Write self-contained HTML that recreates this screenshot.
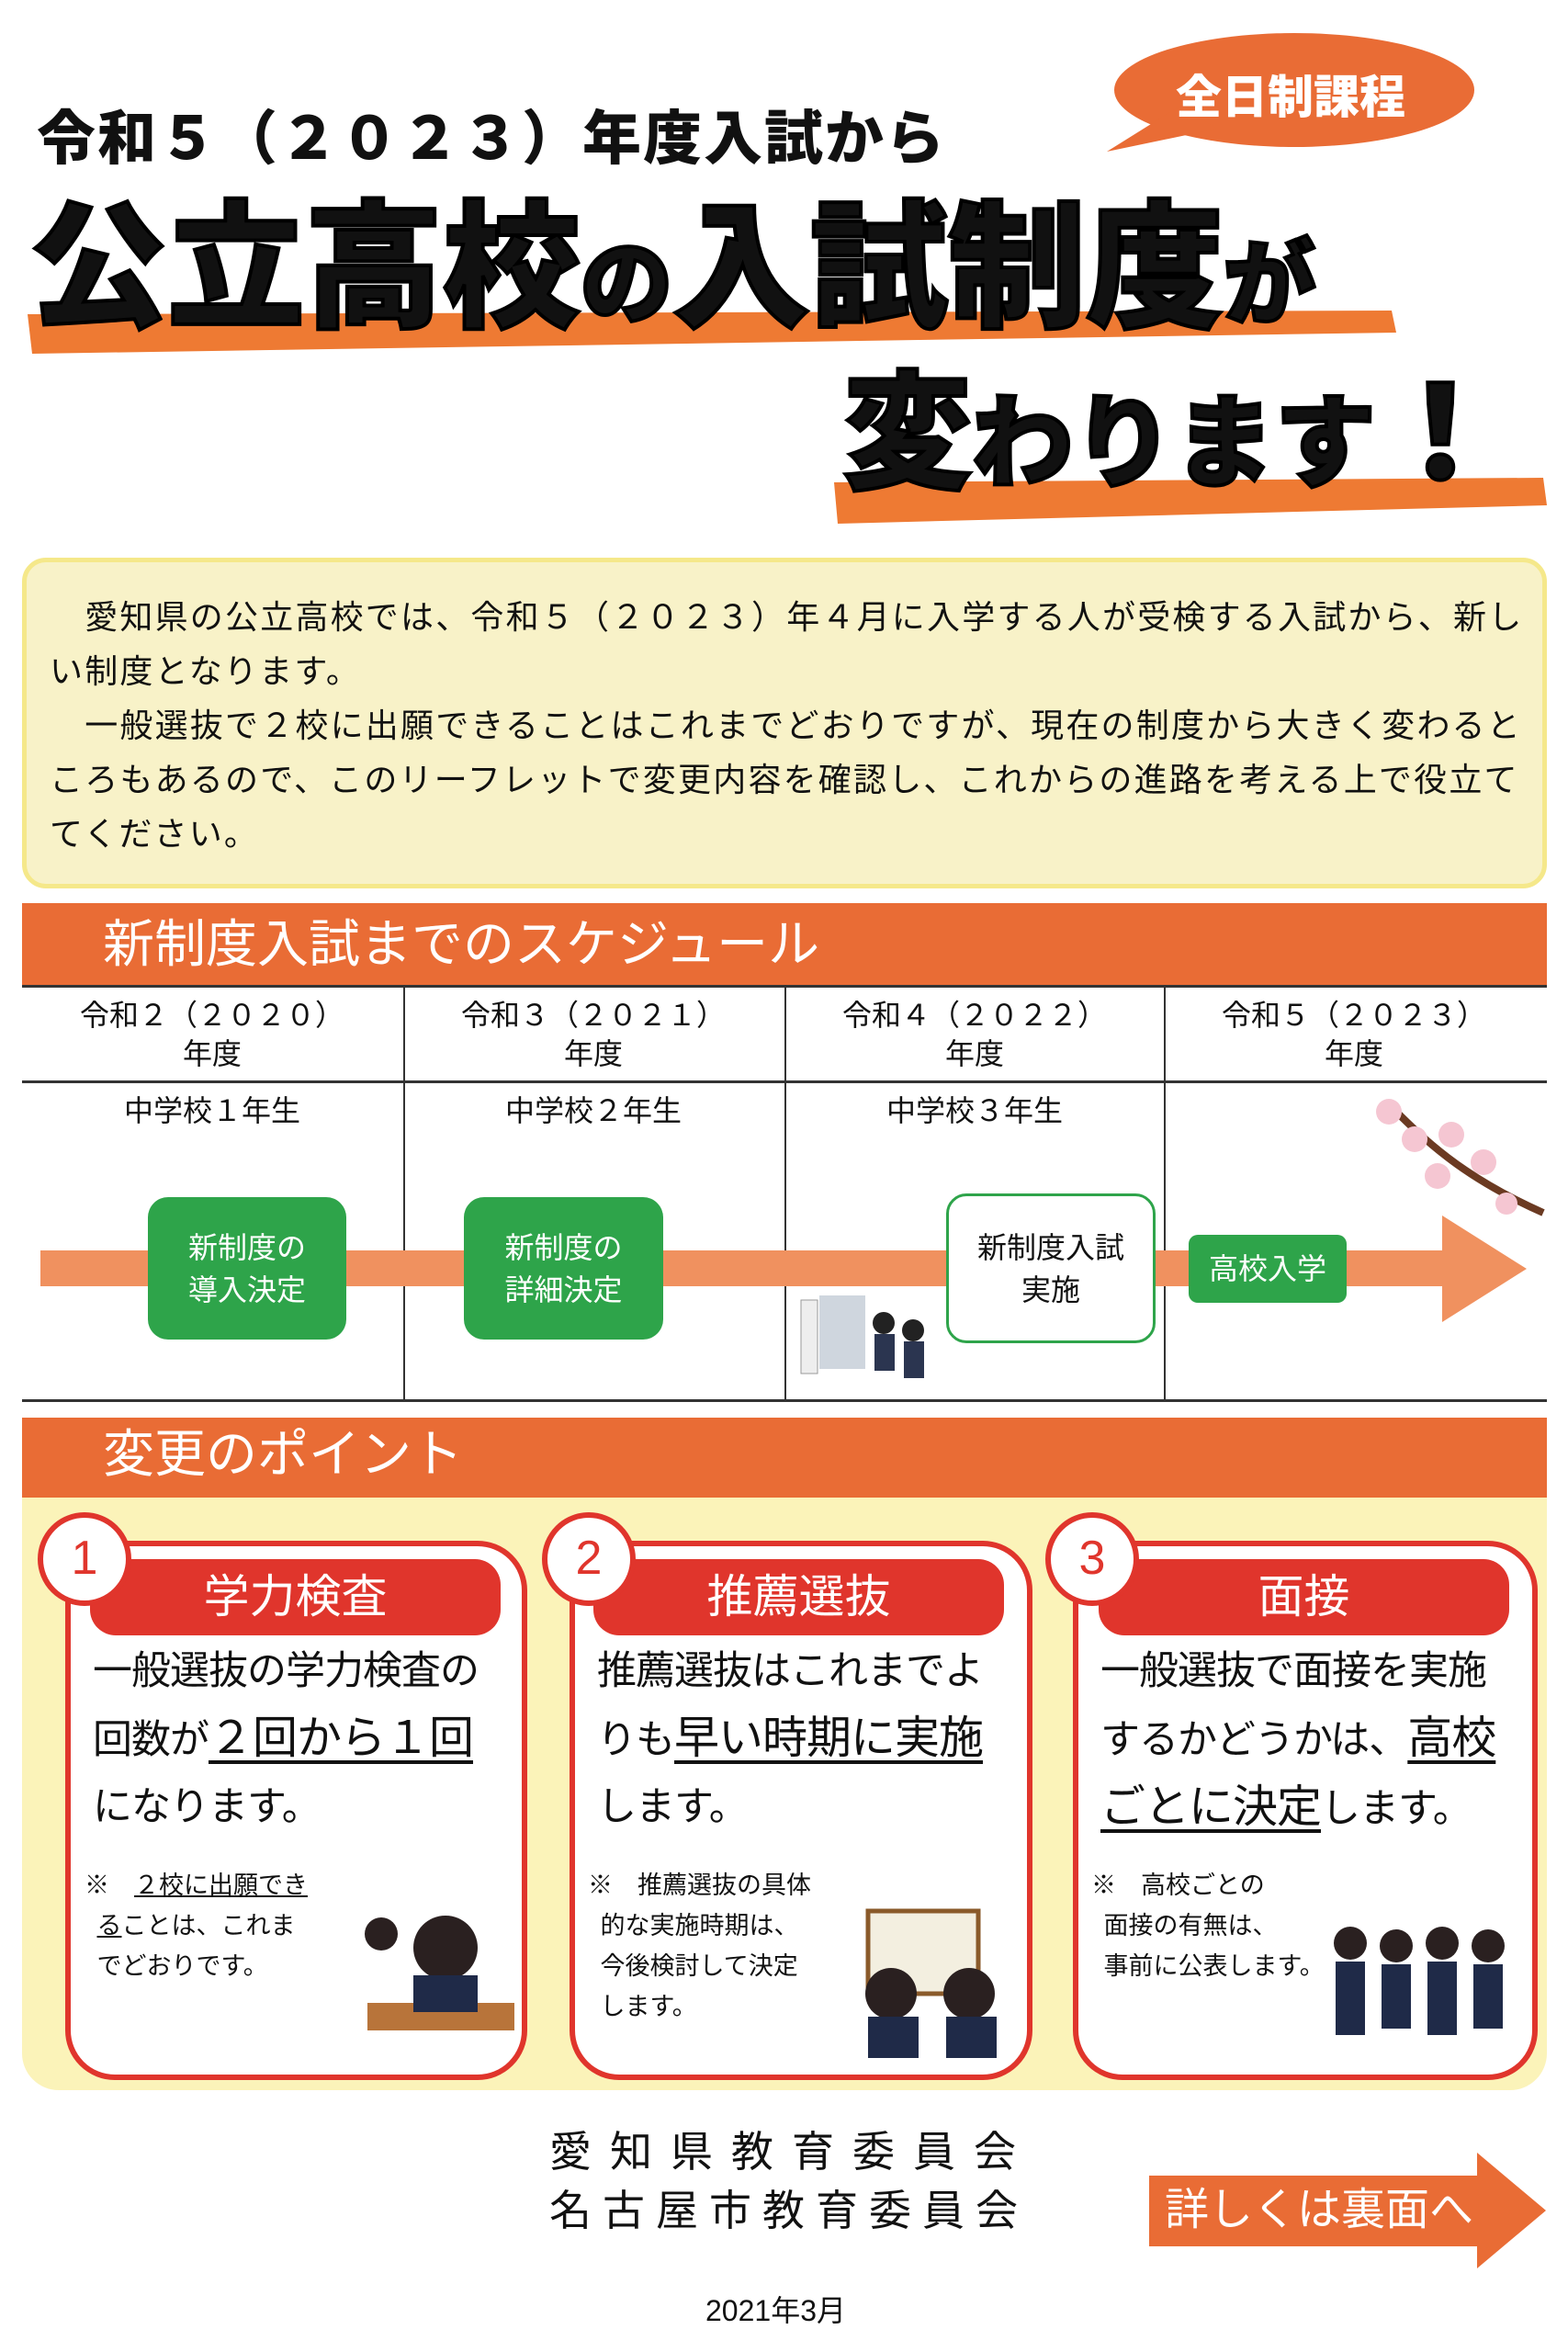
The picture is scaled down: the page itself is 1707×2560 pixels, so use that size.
<!DOCTYPE html>
<html><head><meta charset="utf-8"><style>
*{margin:0;padding:0;box-sizing:border-box}
body{width:1707px;height:2560px;background:#fff;position:relative;overflow:hidden;font-family:"Liberation Sans","Noto Sans CJK JP",sans-serif;color:#111}
.a{position:absolute;white-space:nowrap}
.bold{font-weight:900}
.hd{background:#e96c35;color:#fff;font-size:56px;padding-left:88px;line-height:1}
.vl{position:absolute;width:2px;background:#333}
.hl{position:absolute;height:3px;background:#333;left:24px;width:1660px}
.yr{position:absolute;width:414px;text-align:center;font-size:32px;line-height:42px}
.gb{position:absolute;background:#2ea44a;color:#fff;border-radius:22px;font-size:32px;display:flex;align-items:center;justify-content:center;text-align:center;line-height:46px}
.card{position:absolute;top:1677px;height:587px;border:6px solid #e0352c;border-radius:54px;background:#fff}
.num{position:absolute;width:102px;height:102px;border-radius:50%;border:6px solid #e0352c;background:#fff;font-size:52px;text-align:center;line-height:88px;color:#e0352c}
.bar{position:absolute;height:83px;background:#e0352c;border-radius:28px;color:#fff;font-size:50px;text-align:center;line-height:83px}
.body{position:absolute;font-size:43px;line-height:73px;white-space:nowrap;letter-spacing:-1px}
.u{text-decoration:underline;text-decoration-thickness:4px;text-underline-offset:8px;font-size:49px}
.note{position:absolute;font-size:27px;line-height:44px;white-space:nowrap}
</style></head><body>

<svg class="a" style="left:1195px;top:30px" width="420" height="140">
<ellipse cx="214" cy="68" rx="196" ry="62" fill="#e96c35"/>
<polygon points="10,135 90,85 130,110" fill="#e96c35"/>
</svg>
<div class="a bold" style="left:1280px;top:66px;font-size:50px;color:#fff">全日制課程</div>

<div class="a bold" style="left:40px;top:100px;font-size:64px;letter-spacing:2px">令和５（２０２３）年度入試から</div>

<svg class="a" style="left:0;top:0" width="1707" height="600">
<polygon points="30,342 1515,338 1520,362 35,385" fill="#ee7a33"/>
<polygon points="908,525 1680,520 1684,550 912,570" fill="#ee7a33"/>
</svg>
<div class="a bold" style="left:32px;top:212px;font-size:150px;line-height:160px;-webkit-text-stroke:4px #000">公立高校<span style="font-size:100px">の</span>入試制度<span style="font-size:100px">が</span></div>
<div class="a bold" style="left:918px;top:398px;font-size:140px;line-height:150px;-webkit-text-stroke:4px #000">変<span style="font-size:110px">わります</span>！</div>

<div class="a" style="left:24px;top:607px;width:1660px;height:360px;background:#f8f2c8;border:5px solid #f5e88a;border-radius:26px"></div>
<div class="a" style="left:54px;top:642px;font-size:36px;letter-spacing:2.2px;line-height:59px;white-space:nowrap">
&emsp;愛知県の公立高校では、令和５（２０２３）年４月に入学する人が受検する入試から、新し<br>い制度となります。<br>&emsp;一般選抜で２校に出願できることはこれまでどおりですが、現在の制度から大きく変わると<br>ころもあるので、このリーフレットで変更内容を確認し、これからの進路を考える上で役立て<br>てください。</div>

<div class="a hd" style="left:24px;top:983px;width:1660px;height:90px;line-height:90px">新制度入試までのスケジュール</div>
<div class="hl" style="top:1072px"></div>
<div class="hl" style="top:1176px"></div>
<div class="hl" style="top:1523px"></div>
<div class="vl" style="left:439px;top:1073px;height:451px"></div>
<div class="vl" style="left:854px;top:1073px;height:451px"></div>
<div class="vl" style="left:1267px;top:1073px;height:451px"></div>
<div class="yr" style="left:24px;top:1084px">令和２（２０２０）<br>年度</div>
<div class="yr" style="left:439px;top:1084px">令和３（２０２１）<br>年度</div>
<div class="yr" style="left:854px;top:1084px">令和４（２０２２）<br>年度</div>
<div class="yr" style="left:1267px;top:1084px">令和５（２０２３）<br>年度</div>
<div class="yr" style="left:24px;top:1188px">中学校１年生</div>
<div class="yr" style="left:439px;top:1188px">中学校２年生</div>
<div class="yr" style="left:854px;top:1188px">中学校３年生</div>

<svg class="a" style="left:0;top:1300px" width="1707" height="160">
<rect x="44" y="61" width="1540" height="39" fill="#f0915f"/>
<polygon points="1570,23 1662,81 1570,139" fill="#f0915f"/>
</svg>
<div class="gb" style="left:161px;top:1303px;width:216px;height:155px">新制度の<br>導入決定</div>
<div class="gb" style="left:505px;top:1303px;width:217px;height:155px">新制度の<br>詳細決定</div>
<div class="gb" style="left:1030px;top:1299px;width:228px;height:163px;background:#fff;color:#111;border:3px solid #2ea44a">新制度入試<br>実施</div>
<div class="gb" style="left:1294px;top:1344px;width:172px;height:74px;border-radius:10px">高校入学</div>

<svg class="a" style="left:1490px;top:1180px" width="200" height="150">
<path d="M20,20 C60,60 100,100 190,140" stroke="#6b3a22" stroke-width="8" fill="none"/>
<g fill="#f5c6d2"><circle cx="22" cy="30" r="14"/><circle cx="50" cy="60" r="14"/><circle cx="90" cy="55" r="14"/><circle cx="75" cy="100" r="14"/><circle cx="125" cy="85" r="14"/><circle cx="150" cy="130" r="12"/></g>
</svg>
<svg class="a" style="left:862px;top:1400px" width="160" height="125">
<rect x="10" y="15" width="18" height="80" fill="#eee" stroke="#999"/>
<rect x="30" y="10" width="50" height="80" fill="#cfd6de"/>
<circle cx="100" cy="40" r="12" fill="#222"/><rect x="90" y="52" width="22" height="40" fill="#2b3550"/>
<circle cx="132" cy="48" r="12" fill="#222"/><rect x="122" y="60" width="22" height="40" fill="#2b3550"/>
</svg>

<div class="a hd" style="left:24px;top:1543px;width:1660px;height:88px;line-height:80px">変更のポイント</div>
<div class="a" style="left:24px;top:1630px;width:1660px;height:645px;background:#fbf3b9;border-radius:0 0 40px 40px"></div>

<div class="card" style="left:71px;width:503px"></div>
<div class="card" style="left:620px;width:504px"></div>
<div class="card" style="left:1168px;width:506px"></div>
<div class="bar" style="left:98px;top:1697px;width:447px">学力検査</div>
<div class="bar" style="left:646px;top:1697px;width:447px">推薦選抜</div>
<div class="bar" style="left:1196px;top:1697px;width:447px">面接</div>
<div class="num" style="left:41px;top:1646px">1</div>
<div class="num" style="left:590px;top:1646px">2</div>
<div class="num" style="left:1138px;top:1646px">3</div>

<div class="body" style="left:101px;top:1783px">一般選抜の学力検査の<br>回数が<span class="u">２回から１回</span><br>になります。</div>
<div class="body" style="left:650px;top:1783px">推薦選抜はこれまでよ<br>りも<span class="u">早い時期に実施</span><br>します。</div>
<div class="body" style="left:1198px;top:1783px">一般選抜で面接を実施<br>するかどうかは、<span class="u">高校</span><br><span class="u">ごとに決定</span>します。</div>

<div class="note" style="left:92px;top:2030px">※　<u>２校に出願でき</u><br>&ensp;<u>る</u>ことは、これま<br>&ensp;でどおりです。</div>
<div class="note" style="left:640px;top:2030px">※　推薦選抜の具体<br>&ensp;的な実施時期は、<br>&ensp;今後検討して決定<br>&ensp;します。</div>
<div class="note" style="left:1188px;top:2030px">※　高校ごとの<br>&ensp;面接の有無は、<br>&ensp;事前に公表します。</div>

<svg class="a" style="left:370px;top:2060px" width="200" height="180">
<rect x="30" y="120" width="160" height="30" fill="#b8743a"/><circle cx="115" cy="60" r="35" fill="#2a2020"/><rect x="80" y="90" width="70" height="40" fill="#1f2a48"/><circle cx="45" cy="45" r="18" fill="#2a2020"/>
</svg>
<svg class="a" style="left:910px;top:2075px" width="200" height="165">
<rect x="35" y="5" width="120" height="90" fill="#f3efe0" stroke="#8a5a2a" stroke-width="5"/><circle cx="60" cy="95" r="28" fill="#2a2020"/><rect x="35" y="120" width="55" height="45" fill="#1f2a48"/><circle cx="145" cy="95" r="28" fill="#2a2020"/><rect x="120" y="120" width="55" height="45" fill="#1f2a48"/>
</svg>
<svg class="a" style="left:1440px;top:2090px" width="220" height="150">
<g fill="#2a2020"><circle cx="30" cy="25" r="18"/><circle cx="80" cy="28" r="18"/><circle cx="130" cy="25" r="18"/><circle cx="180" cy="28" r="18"/></g>
<g fill="#1f2a48"><rect x="14" y="45" width="32" height="80"/><rect x="64" y="48" width="32" height="70"/><rect x="114" y="45" width="32" height="80"/><rect x="164" y="48" width="32" height="70"/></g>
</svg>

<div class="a" style="left:598px;top:2310px;font-size:46px;line-height:64px;letter-spacing:20px">愛知県教育委員会</div>
<div class="a" style="left:598px;top:2374px;font-size:46px;line-height:64px;letter-spacing:12px">名古屋市教育委員会</div>
<svg class="a" style="left:1251px;top:2343px" width="435" height="128">
<polygon points="0,25 357,25 357,0 432,63 357,126 357,102 0,102" fill="#e96c35"/>
</svg>
<div class="a" style="left:1268px;top:2378px;font-size:48px;color:#fff;line-height:56px">詳しくは裏面へ</div>
<div class="a" style="left:768px;top:2490px;font-size:32px">2021年3月</div>
</body></html>
